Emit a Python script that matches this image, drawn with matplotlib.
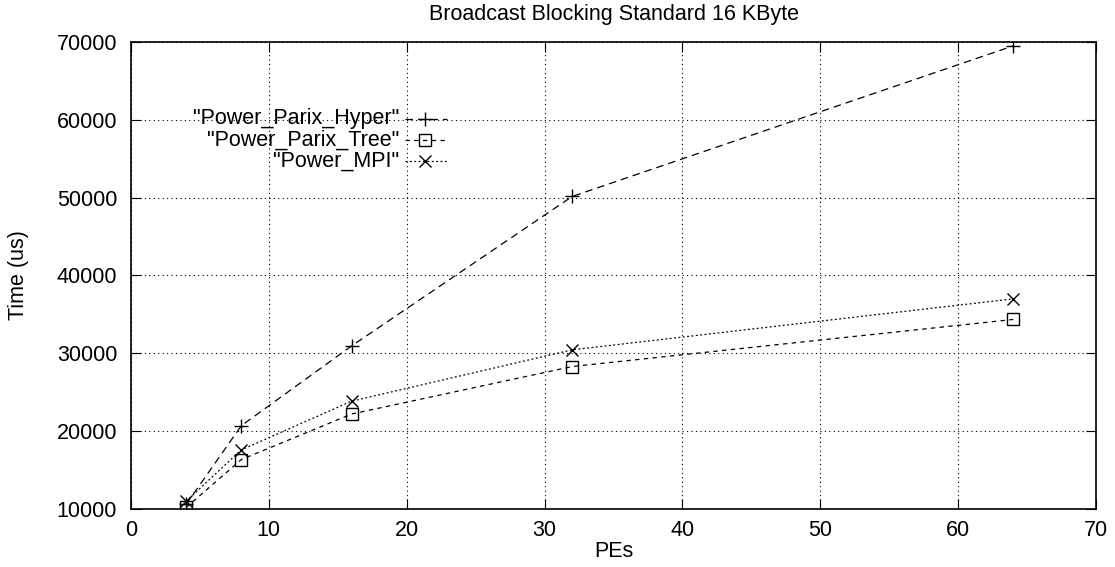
import matplotlib
matplotlib.use("Agg")
import matplotlib.pyplot as plt
from matplotlib.lines import Line2D

plt.rcParams['font.family'] = ['Liberation Sans', 'DejaVu Sans']

pes = [4, 8, 16, 32, 64]
parix_hyper = [10600, 20700, 30950, 50150, 69500]
parix_tree = [10200, 16350, 22200, 28300, 34350]
power_mpi = [11000, 17600, 23850, 30450, 37000]

labels = ['"Power_Parix_Hyper"', '"Power_Parix_Tree"', '"Power_MPI"']
styles = [
    dict(ls=(0, (6, 4)), marker='+', ms=10, mew=1.0),
    dict(ls=(0, (3.5, 3.5)), marker='s', ms=9, mew=1.0, mfc='none'),
    dict(ls=(0, (1.5, 2)), marker='x', ms=9, mew=1.0),
]
FS = 15.5

fig = plt.figure(figsize=(11.15, 5.67), dpi=100)
ax = fig.add_axes([0.1175, 0.1023, 0.8655, 0.8237])

for ys, st in zip([parix_hyper, parix_tree, power_mpi], styles):
    ax.plot(pes, ys, color='black', lw=0.9, **st)

ax.set_xlim(0, 70)
ax.set_ylim(10000, 70000)
ax.set_xticks(range(0, 71, 10))
ax.set_yticks(range(10000, 70001, 10000))
ax.grid(True, color='black', ls=(0, (1, 3)), lw=0.8)
ax.tick_params(direction='in', top=True, right=True, length=7, labelsize=FS)
ax.tick_params(axis='y', pad=10)
ax.tick_params(axis='x', pad=8)
for sp in ax.spines.values():
    sp.set_linewidth(1.2)

ax.set_title('Broadcast Blocking Standard 16 KByte', fontsize=FS, pad=16)
ax.set_xlabel('PEs', fontsize=FS, labelpad=0)
ax.set_ylabel('Time (us)', fontsize=FS, labelpad=20)

# gnuplot-like key: right-aligned text with the line sample after it
key_y = [119, 140, 161]
for lab, st, yp in zip(labels, styles, key_y):
    yf = 1 - (yp - 42) / 467
    ax.text(0.278, yf, lab, transform=ax.transAxes, ha='right', va='center', fontsize=FS)
    ax.add_line(Line2D([0.284, 0.327], [yf, yf], transform=ax.transAxes,
                       color='black', lw=0.9, ls=st['ls']))
    ax.add_line(Line2D([0.305], [yf], transform=ax.transAxes, color='black',
                       marker=st['marker'], ms=st['ms'], mew=st['mew'],
                       mfc=st.get('mfc', 'black'), ls='none'))

fig.savefig('out.png', dpi=100)
